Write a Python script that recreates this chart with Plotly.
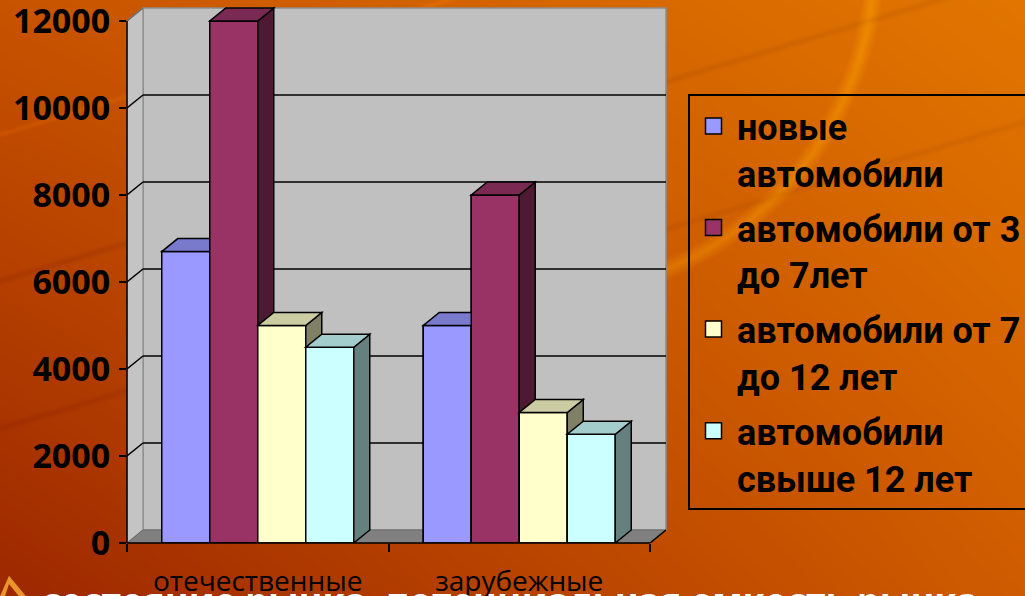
import base64
import struct
import zlib

import numpy as np
import plotly.graph_objects as go

# ---------------- data ----------------
categories = ["отечественные", "зарубежные"]
series_names = [
    "новые<br>автомобили",
    "автомобили от 3<br>до 7лет",
    "автомобили от 7<br>до 12 лет",
    "автомобили<br>свыше 12 лет",
]
new_cars = [6700, 5000]
cars_3_to_7 = [12000, 8000]
cars_7_to_12 = [5000, 3000]
cars_over_12 = [4500, 2500]
y_ticks = [0, 2000, 4000, 6000, 8000, 10000, 12000]
y_tick_labels = ["0", "2000", "4000", "6000", "8000", "10000", "12000"]
bottom_text = "состояние рынка, потенциальная емкость рынка"

series_values = [new_cars, cars_3_to_7, cars_7_to_12, cars_over_12]

# ---------------- style ----------------
front_colors = ["#9999FF", "#993366", "#FFFFCC", "#CCFFFF"]
top_colors = ["#7A7ACC", "#7A2952", "#CCCCA3", "#A3CCCC"]
side_colors = ["#4D4D80", "#4D1933", "#808066", "#668080"]

FIG_W, FIG_H = 1025, 596
PLOT_L = 127          # px of front-left corner
FRONT_BOTTOM = 543    # px of front baseline
FRONT_W = 523         # px width of front plane (2 categories)
FRONT_H = 522         # px height of 0..12000
DEPTH_X, DEPTH_Y = 16, 13
PAD = 3
Y_MAX = y_ticks[-1]

px_per_x = FRONT_W / len(categories)
px_per_y = FRONT_H / Y_MAX
plot_w = FRONT_W + DEPTH_X + PAD
plot_h = FRONT_H + DEPTH_Y + PAD
m_l = PLOT_L
m_r = FIG_W - PLOT_L - plot_w
m_b = FIG_H - FRONT_BOTTOM
m_t = FIG_H - m_b - plot_h

x_lo = -0.5
x_hi = x_lo + plot_w / px_per_x
y_hi = plot_h / px_per_y
dxu = DEPTH_X / px_per_x
dyu = DEPTH_Y / px_per_y
x_front_hi = len(categories) - 0.5

bar_w = 48 / px_per_x
n_series = len(series_values)


# ---------------- background image ----------------
def make_png(arr):
    h, w, _ = arr.shape
    raw = b"".join(b"\x00" + arr[r].tobytes() for r in range(h))

    def chunk(tag, data):
        c = struct.pack(">I", len(data)) + tag + data
        return c + struct.pack(">I", zlib.crc32(tag + data) & 0xFFFFFFFF)

    return (b"\x89PNG\r\n\x1a\n"
            + chunk(b"IHDR", struct.pack(">IIBBBBB", w, h, 8, 2, 0, 0, 0))
            + chunk(b"IDAT", zlib.compress(raw, 9))
            + chunk(b"IEND", b""))


S = 2
gw, gh = FIG_W // S + 1, FIG_H // S + 1
X, Y = np.meshgrid((np.arange(gw) + 0.5) * S, (np.arange(gh) + 0.5) * S)
u = X / FIG_W
v = Y / FIG_H
TL = np.array([200, 84, 0.0])
TR = np.array([226, 118, 0.0])
BL = np.array([158, 40, 0.0])
BR = np.array([208, 92, 0.0])
img = ((1 - u)[..., None] * (1 - v)[..., None] * TL + u[..., None] * (1 - v)[..., None] * TR
       + (1 - u)[..., None] * v[..., None] * BL + u[..., None] * v[..., None] * BR)
# swirl band
d = np.sqrt((X - 540) ** 2 + (Y + 40) ** 2)
band = np.clip(1 - np.abs(d - 335) / 11, 0, 1) * ((X > 640) & (Y < 300))
img += band[..., None] * np.array([18, 26, 0])
# faint streaks
for y0, amt, hw in [(135, 14, 4), (282, -12, 5), (430, -10, 5)]:
    dist = np.abs(Y - (y0 - 0.3 * X))
    s = np.clip(1 - dist / hw, 0, 1)
    img += s[..., None] * np.array([amt, amt * 0.7, 0])
img = np.clip(img, 0, 255).astype(np.uint8)
bg_src = "data:image/png;base64," + base64.b64encode(make_png(img)).decode()

# ---------------- figure ----------------
fig = go.Figure()

x_pos = list(range(len(categories)))
offsets = [-n_series * bar_w / 2 + i * bar_w for i in range(n_series)]

for i, vals in enumerate(series_values):
    fig.add_trace(go.Bar(
        x=x_pos, y=vals, width=bar_w, offset=offsets[i],
        marker=dict(color=front_colors[i], line=dict(color="black", width=1.5)),
        name=series_names[i], showlegend=False, legendgroup=f"g{i}",
        hovertemplate="%{y}<extra></extra>",
    ))
    fig.add_trace(go.Scatter(
        x=[None], y=[None], mode="markers", name=series_names[i], legendgroup=f"g{i}",
        marker=dict(symbol="square", size=22, color=front_colors[i],
                    line=dict(color="black", width=1.5)),
        hoverinfo="skip",
    ))

shapes = []


def poly(pts):
    return "M " + " L ".join(f"{a:.5f},{b:.3f}" for a, b in pts) + " Z"


# walls & floor
shapes.append(dict(type="rect", xref="x", yref="y", x0=x_lo + dxu, x1=x_front_hi + dxu,
                   y0=dyu, y1=Y_MAX + dyu, fillcolor="#C0C0C0",
                   line=dict(color="#8C8C8C", width=1.5), layer="below"))
shapes.append(dict(type="path", xref="x", yref="y",
                   path=poly([(x_lo, 0), (x_lo, Y_MAX), (x_lo + dxu, Y_MAX + dyu), (x_lo + dxu, dyu)]),
                   fillcolor="#C4C4C4", line=dict(color="#8C8C8C", width=1.2), layer="below"))
shapes.append(dict(type="path", xref="x", yref="y",
                   path=poly([(x_lo, 0), (x_front_hi, 0), (x_front_hi + dxu, dyu), (x_lo + dxu, dyu)]),
                   fillcolor="#808080", line=dict(color="#6A6A6A", width=1), layer="below"))
# gridlines on back wall and side wall
for t in y_ticks[1:]:
    col = "black" if t < Y_MAX else "#707070"
    if t < Y_MAX:
        shapes.append(dict(type="line", xref="x", yref="y", x0=x_lo + dxu, x1=x_front_hi + dxu,
                           y0=t + dyu, y1=t + dyu, line=dict(color="black", width=1.5), layer="below"))
    shapes.append(dict(type="line", xref="x", yref="y", x0=x_lo, x1=x_lo + dxu,
                       y0=t, y1=t + dyu, line=dict(color=col, width=1.5), layer="below"))
# floor right edge
shapes.append(dict(type="line", xref="x", yref="y", x0=x_front_hi, x1=x_front_hi + dxu,
                   y0=0, y1=dyu, line=dict(color="black", width=1.5), layer="below"))

# 3D bar faces (painter's order: left to right)
for c in x_pos:
    for i, vals in enumerate(series_values):
        val = vals[c]
        x0 = c + offsets[i]
        x1 = x0 + bar_w
        ln = dict(color="black", width=1.5)
        shapes.append(dict(type="path", xref="x", yref="y", layer="above",
                           path=poly([(x0, 0), (x1, 0), (x1, val), (x0, val)]),
                           fillcolor=front_colors[i], line=ln))
        shapes.append(dict(type="path", xref="x", yref="y", layer="above",
                           path=poly([(x1, 0), (x1 + dxu, dyu), (x1 + dxu, val + dyu), (x1, val)]),
                           fillcolor=side_colors[i], line=ln))
        shapes.append(dict(type="path", xref="x", yref="y", layer="above",
                           path=poly([(x0, val), (x1, val), (x1 + dxu, val + dyu), (x0 + dxu, val + dyu)]),
                           fillcolor=top_colors[i], line=ln))

# axis lines (front plane)
shapes.append(dict(type="line", xref="paper", yref="y", x0=0, x1=0, y0=0, y1=Y_MAX,
                   line=dict(color="black", width=1.5), layer="above"))
shapes.append(dict(type="line", xref="x", yref="paper", x0=x_lo, x1=x_front_hi, y0=0, y1=0,
                   line=dict(color="black", width=1.5), layer="above"))


# small slide-decoration chevron in the bottom-left corner (paper coords from pixels)
def px(xp, yp):
    return ((xp - m_l) / plot_w, (FRONT_BOTTOM - yp) / plot_h)


chev = [px(0, 596), px(9, 576), px(26, 596), px(19, 596), px(9, 584), px(5, 596)]
shapes.append(dict(type="path", xref="paper", yref="paper", layer="above",
                   path=poly(chev), fillcolor="#E8962A", line=dict(width=0)))

fig.update_layout(
    width=FIG_W, height=FIG_H,
    margin=dict(l=m_l, r=m_r, t=m_t, b=m_b, pad=0, autoexpand=False),
    paper_bgcolor="#C85A00",
    plot_bgcolor="rgba(0,0,0,0)",
    barmode="overlay",
    shapes=shapes,
    images=[dict(source=bg_src, xref="paper", yref="paper",
                 x=-m_l / plot_w, y=1 + m_t / plot_h,
                 sizex=FIG_W / plot_w, sizey=FIG_H / plot_h,
                 xanchor="left", yanchor="top", sizing="stretch", layer="below")],
    xaxis=dict(
        range=[x_lo, x_hi], tickmode="array", tickvals=x_pos, ticktext=categories,
        ticks="", showgrid=False, zeroline=False, showline=False,
        tickfont=dict(family="Open Sans", size=28, color="black"),
        ticklabelstandoff=19, ticklabeloverflow="allow",
        minor=dict(tickmode="array", tickvals=[k - 0.5 for k in range(len(categories) + 1)],
                   ticks="outside", ticklen=8, tickwidth=1.5, tickcolor="black", showgrid=False),
    ),
    yaxis=dict(
        range=[0, y_hi], tickmode="array", tickvals=y_ticks, ticktext=y_tick_labels,
        ticks="outside", ticklen=7, tickwidth=1.5, tickcolor="black",
        showgrid=False, zeroline=False, showline=False,
        tickfont=dict(family="Open Sans", size=34, color="black", weight="bold"),
        ticklabelstandoff=2, ticklabeloverflow="allow",
    ),
    legend=dict(
        x=(688 - PLOT_L) / plot_w, xanchor="left",
        y=(FRONT_BOTTOM - 94) / plot_h, yanchor="top",
        bordercolor="black", borderwidth=2, bgcolor="rgba(0,0,0,0)",
        font=dict(family="Roboto", size=36, color="black", weight="bold"),
        itemwidth=37, tracegroupgap=5, valign="top",
    ),
    annotations=[dict(
        text=bottom_text, xref="paper", yref="paper",
        x=(510 - PLOT_L) / plot_w, y=-(574 - FRONT_BOTTOM) / plot_h,
        xanchor="center", yanchor="top", showarrow=False,
        font=dict(family="Open Sans", size=36, color="white", weight="bold"),
    )],
)

fig.write_html("out.html")
